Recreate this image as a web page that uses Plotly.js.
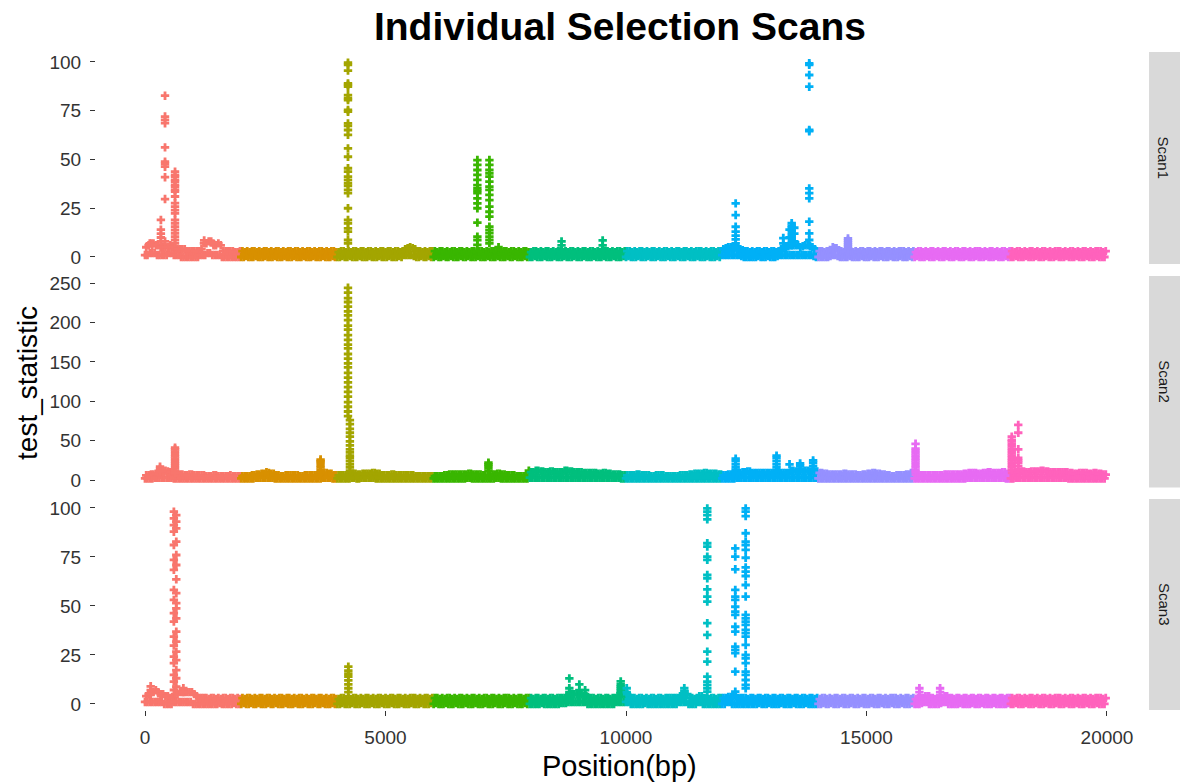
<!DOCTYPE html>
<html>
<head>
<meta charset="utf-8">
<script src="https://cdn.plot.ly/plotly-3.0.1.min.js"></script>
<style>html,body{margin:0;padding:0;background:#fff;}#chart{width:1180px;height:784px;}</style>
</head>
<body>
<div id="chart"></div>
<script>
// ---- categories ----
const scanNames = ['Scan1', 'Scan2', 'Scan3'];
const chromNames = ['chr1','chr2','chr3','chr4','chr5','chr6','chr7','chr8','chr9','chr10'];
const chromStarts = [0, 2000, 4000, 6000, 8000, 10000, 12000, 14000, 16000, 18000];
const chromLength = 2000;
const chromColors = ['#F8766D','#D89000','#A3A500','#39B600','#00BF7D','#00BFC4','#00B0F6','#9590FF','#E76BF3','#FF62BC'];

// ---- background SNPs: evenly spaced along each chromosome (one row per chromosome) ----
const scan1Base = [
  [1,5,1,6,2,7,2,7,2,6,1,6,1,5,1,5,1,5,1,5,2,6,2,5,1,5,1,4,1,4,0,4,0,4,0,3,0,3,0,3,0,3,0,3,0,3,1,4,1,7,1,7,2,8,2,8,1,6,1,6,1,7,1,6,0,3,0,3,0,3,0,3,0,3,0,2.5,0,2.5,0,3],
  [0,3,0,2.5,0.5,3,0,2.5,0,3,0,3,0.5,2.5,0,3,0,2.5,0,3,0.5,3,0,2.5,0,3,0,2.5,0.5,3,0,3,0,2.5,0,3,0.5,2.5,0,3,0,3,0,2.5,0.5,3,0,3,0,2.5,0,3,0.5,2.5,0,3,0,3,0,2.5,0.5,3,0,2.5,0,3,0,3,0.5,2.5,0,3,0,2.5,0,3,0.5,3,0,2.5],
  [0,2.5,0,3,0.5,3,0,2.5,0,3,0.5,2.5,0,3,0,3,0,2.5,0.5,3,0,3,0,2.5,0,3,0.5,3,0,2.5,0,3,0,2.5,0.5,3,0,3,0,2.5,0,3,0.5,3,0,2.5,0,3,0,3,0.5,2.5,0,3,1,4,1,4.5,1,5,1,4.5,0.5,4,0,3,0,3,0.5,2.5,0,3,0,2.5,0.5,3,0,3],
  [0,3,0.5,2.5,0,3,0,3,0.5,2.5,0,3,0,2.5,0.5,3,0,3,0,2.5,0,3,0.5,3,0,2.5,0,3,0.5,2.5,0,3,0,3,0,2.5,0.5,3,0,3,0,2.5,0,3,0.5,2.5,0,3,0,3,0,2.5,0.5,3,0,2.5,0,3,0,3,0.5,2.5,0,3,0,3,0.5,2.5,0,3,0,2.5,0,3,0.5,3,0,2.5],
  [0,2.5,0,3,0.5,3,0,2.5,0,3,0,2.5,0.5,3,0,3,0,2.5,0,3,0.5,2.5,0,3,0,3,0,2.5,0.5,3,0,2.5,0,3,0,3,0.5,2.5,0,3,0,2.5,0,3,0.5,3,0,2.5,0,3,0,3,0.5,2.5,0,3,0,2.5,0,3,0.5,3,0,3,0,2.5,0,3,0.5,2.5,0,3,0,3,0,2.5,0.5,3],
  [0,3,0.5,3,0,2.5,0,3,0,2.5,0.5,3,0,3,0,2.5,0,3,0.5,2.5,0,3,0,3,0,2.5,0.5,3,0,2.5,0,3,0,3,0.5,2.5,0,3,0,2.5,0,3,0.5,3,0,2.5,0,3,0,3,0.5,2.5,0,3,0,2.5,0,3,0.5,3,0,3,0,2.5,0,3,0.5,2.5,0,3,0,3,0,2.5,0.5,3,0,3],
  [1,4,1,4.5,1,5,1,5,1,5,1,5,1,4.5,1,4,0.5,3.5,0,3,0,3,0,2.5,0,3,0,2.5,0,3,0.5,3,0,2.5,0,3,0,3,0.5,2.5,0,3,0,3,0,2.5,0.5,3,1,4,1,4.5,1,5,1,5.5,1,6,1,6,1,6,1,6,1,5,1,5.5,1,6,1,6,1,5.5,1,5,0.5,4,0,3],
  [0,3,0,3,0,2.5,0,3,0,3,0.5,3.5,1,4.5,1,4.5,0.5,3.5,0,3,0,2.5,0,3,0,3,0.5,3,0,2.5,0,3,0,2.5,0,3,0.5,3,0,2.5,0,3,0,3,0.5,2.5,0,3,0,2.5,0,3,0.5,3,0,2.5,0,3,0,3,0.5,2.5,0,3,0,2.5,0,3,0.5,3,0,3,0,2.5,0,3,0.5,2.5,0,3],
  [0,2.5,0.5,3,0,3,0,2.5,0,3,0.5,2.5,0,3,0,3,0,2.5,0.5,3,0,2.5,0,3,0,3,0.5,2.5,0,3,0,2.5,0,3,0.5,3,0,2.5,0,3,0,3,0.5,2.5,0,3,0,2.5,0,3,0.5,3,0,3,0,2.5,0,3,0.5,2.5,0,3,0,3,0,2.5,0.5,3,0,2.5,0,3,0,3,0.5,2.5,0,3],
  [0,3,0,2.5,0.5,3,0,3,0,2.5,0,3,0.5,2.5,0,3,0,3,0,2.5,0.5,3,0,2.5,0,3,0,3,0.5,2.5,0,3,0,2.5,0,3,0.5,3,0,3,0,2.5,0,3,0.5,2.5,0,3,0,3,0,2.5,0.5,3,0,2.5,0,3,0,3,0.5,2.5,0,3,0,2.5,0,3,0.5,3,0,3,0,2.5,0,3]
];
const scan2Base = [
  [2,6,2,6,2,7,2,7,3,8,3,8,3,10,3,10,3,12,3,11,3,10,3,10,2,8,2,8,2,7,2,7,2,6,2,6,2,7,2,7,2,6,2,6,2,6,2,6,2,6,2,5,2,5,2,5,2,6,2,6,2,5,2,5,2,5,2,5,2,5,2,6,2,5,2,5,2,5,2,5],
  [2,5,2,5,2,5,2,5,2,6,2,6,3,7,3,7,3,8,3,8,3,10,3,9,3,8,3,8,2,6,2,6,2,5,2,5,2,6,2,6,2,6,2,6,2,6,2,6,2,5,2,5,2,6,2,6,2,6,2,6,2,6,2,6,2,7,2,7,3,9,3,9,3,8,3,8,2,6,2,6],
  [2,6,2,6,2,6,2,6,2,7,2,7,3,8,3,8,2,7,2,7,3,8,3,8,3,8,3,8,3,9,3,9,2,8,2,8,2,6,2,6,2,6,2,6,2,7,2,7,2,6,2,6,2,6,2,6,2,6,2,6,2,6,2,6,2,5,2,5,2,5,2,5,2,5,2,5,2,5,2,5],
  [2,5,2,5,2,5,2,5,2,6,2,6,2,7,2,7,2,7,2,7,2,7,2,7,2,7,2,7,3,8,3,8,2,7,2,7,2,7,2,7,2,6,2,6,2,6,2,6,2,7,2,7,3,8,3,8,2,7,2,7,2,6,2,6,2,6,2,6,2,5,2,5,2,5,2,5,2,5,2,5],
  [3,10,3,10,3,12,3,12,3,11,3,11,3,10,3,10,3,11,3,11,3,10,3,10,3,10,3,10,3,12,3,12,3,11,3,11,3,10,3,10,3,10,3,10,3,9,3,9,3,9,3,9,3,9,3,9,3,8,3,8,3,9,3,9,3,8,3,8,3,7,3,7,3,7,3,7,2,6,2,6],
  [2,6,2,6,2,6,2,6,2,7,2,7,2,6,2,6,2,6,2,6,2,5,2,5,2,6,2,6,2,6,2,6,2,5,2,5,2,5,2,5,2,5,2,5,2,6,2,6,2,6,2,6,2,7,2,7,2,8,2,8,2,8,2,8,2,9,2,9,2,8,2,8,2,8,2,8,2,7,2,7],
  [2,6,2,6,2,7,2,7,2,8,2,8,3,9,3,9,3,10,3,10,3,11,3,11,3,9,3,9,3,9,3,9,3,9,3,9,3,9,3,9,3,9,3,9,3,10,3,10,3,9,3,9,3,9,3,9,3,12,3,12,3,11,3,11,3,11,3,11,3,12,3,12,3,11,3,11,3,11,3,11],
  [2,9,2,9,2,8,2,8,2,7,2,7,2,7,2,7,2,7,2,7,2,8,2,8,2,7,2,7,2,7,2,7,2,6,2,6,2,7,2,7,2,8,2,8,2,9,2,9,2,8,2,8,2,7,2,7,2,6,2,6,2,5,2,5,2,6,2,6,2,6,2,6,2,7,2,7,2,9,2,9],
  [2,7,2,7,2,6,2,6,2,6,2,6,2,6,2,6,2,6,2,6,2,6,2,6,2,7,2,7,2,7,2,7,2,7,2,7,2,7,2,7,2,8,2,8,3,9,3,9,3,9,3,9,3,8,3,8,3,9,3,9,3,10,3,10,3,9,3,9,3,9,3,9,3,10,3,10,2,8,2,8],
  [2,9,2,9,3,10,3,10,3,11,3,11,3,10,3,10,3,11,3,11,3,11,3,11,3,12,3,12,3,11,3,11,3,10,3,10,3,10,3,10,3,10,3,10,3,10,3,10,2,9,2,9,2,8,2,8,2,9,2,9,2,9,2,9,2,8,2,8,2,9,2,9,2,8,2,8,2,7,2,7]
];
const scan3Base = [
  [1,4,1,5,1,6,1,6,1,7,1,6,1,5,1,5,0,4,0,4,0,3,0,3,1,5,1,5,1,6,1,6,1,6,1,6,1,6,1,6,0,5,0,4,0,3,0,3,0,3,0,3,0,2.5,0,3,0,3,0,2.5,0,3,0.5,2.5,0,3,0,3,0,2.5,0,3,0,3,0.5,2.5,0,3,0,2.5],
  [0,3,0.5,2.5,0,3,0,3,0.5,2.5,0,3,0,2.5,0.5,3,0,3,0,2.5,0,3,0.5,3,0,2.5,0,3,0.5,2.5,0,3,0,3,0,2.5,0.5,3,0,3,0,2.5,0,3,0.5,2.5,0,3,0,3,0,2.5,0.5,3,0,2.5,0,3,0,3,0.5,2.5,0,3,0,3,0.5,2.5,0,3,0,2.5,0,3,0.5,3,0,2.5],
  [0,2.5,0,3,0.5,3,0,2.5,0,3,0,2.5,0.5,3,0,3,0,2.5,0,3,0.5,2.5,0,3,0,3,0,2.5,0.5,3,0,2.5,0,3,0,3,0.5,2.5,0,3,0,2.5,0,3,0.5,3,0,2.5,0,3,0,3,0.5,2.5,0,3,0,2.5,0,3,0.5,3,0,3,0,2.5,0,3,0.5,2.5,0,3,0,3,0,2.5,0.5,3],
  [0,3,0.5,3,0,2.5,0,3,0,2.5,0.5,3,0,3,0,2.5,0,3,0.5,2.5,0,3,0,3,0,2.5,0.5,3,0,2.5,0,3,0,3,0.5,2.5,0,3,0,2.5,0,3,0.5,3,0,2.5,0,3,0,3,0.5,2.5,0,3,0,2.5,0,3,0.5,3,0,3,0,2.5,0,3,0.5,2.5,0,3,0,3,0,2.5,0.5,3,0,3],
  [0,3,0,2.5,0,3,0,3,0,2.5,0.5,3,0,3,0,2.5,0,3,0,3,0,2.5,0,3,0,3,0.5,3,0.5,3,0.5,3.5,1,4,1,5,1,5,1,5,1,5,1,5,1,4,1,4,0,3,0,3,0,3,0,2.5,0,3,0,3,0,2.5,0,3,0,3,0,2.5,0,3,0,3,1,4,1,4,1,5,1,5],
  [1,5,1,4,0,3,0,3,0,2.5,0,3,0,3,0,2.5,0.5,3,0,2.5,0,3,0,3,0,2.5,0,3,0,3,0,2.5,0,3,0,3,0,3,0,3,0,3,0,3,1,4,1,4,1,5,1,5,0,3,0,3,0,2.5,0,3,1,4,1,4,0,3,0,3,0,2.5,0,3,0,3,0,2.5,0,3,0,3],
  [0,3,0,3,1,3.5,1,3.5,0,4,0,4,0,3,0,3,0,3,0,3,0,2.5,0,3,0,3,0,2.5,0,3,0.5,3,0,2.5,0,3,0,3,0.5,2.5,0,3,0,3,0,2.5,0,3,0.5,3,0,2.5,0,3,0,3,0,2.5,0.5,3,0,3,0,2.5,0,3,0,3,0.5,2.5,0,3,0,3,0,2.5,0,3],
  [0,2.5,0,3,0.5,3,0,2.5,0,3,0.5,2.5,0,3,0,3,0,2.5,0.5,3,0,3,0,2.5,0,3,0.5,3,0,2.5,0,3,0,2.5,0.5,3,0,3,0,2.5,0,3,0.5,3,0,2.5,0,3,0,3,0.5,2.5,0,3,0,2.5,0,3,0.5,3,0,3,0,2.5,0,3,0.5,2.5,0,3,0,3,0,2.5,0.5,3],
  [0,2.5,0,3,0,3,0.5,3,1,4,1,4,0,3,0,3,0,2.5,0,3,0,3,0.5,3,1,4,1,4,0,3,0,3,0,2.5,0,3,0,3,0.5,2.5,0,3,0,3,0,2.5,0,3,0.5,3,0,2.5,0,3,0,3,0.5,2.5,0,3,0,3,0,2.5,0,3,0.5,3,0,2.5,0,3,0,3,0,2.5,0,3,0.5,3],
  [0,3,0,2.5,0.5,3,0,3,0,2.5,0,3,0.5,2.5,0,3,0,3,0,2.5,0.5,3,0,2.5,0,3,0,3,0.5,2.5,0,3,0,2.5,0,3,0.5,3,0,3,0,2.5,0,3,0.5,2.5,0,3,0,3,0,2.5,0.5,3,0,2.5,0,3,0,3,0.5,2.5,0,3,0,2.5,0,3,0.5,3,0,3,0,2.5,0,3]
];

// ---- outlying SNPs: position (bp) and the test statistics read at that position ----
const scan1PeakPos = [100, 150, 330, 416, 624, 1230, 1420, 4220, 5450, 6910, 7160, 7350, 8660, 9515,
                      12150, 12280, 13270, 13400, 13445, 13500, 13810, 14300, 14615, 16240];
const scan1PeakVals = [
  [7], [6], [19,14,12,10,8],
  [82.7,72,70.3,68.6,56.2,48.9,47.7,46.3,40.9,29.7,8],
  [43.7,42,41.2,39.5,38.6,37,36,34.4,33.5,31,27.6,25.8,24,22.4,19,17.3,15.5,13.8,12.1,10.4,8.7,7],
  [8.5], [7],
  [99.6,98.5,95.6,89,88.2,87.3,83,81.4,80.5,75.4,74.5,68.5,67.2,65.1,62.6,55.7,51.4,45.5,43.8,41.2,39.5,37.8,36.5,34.4,32.7,25,19,17.3,14.7,13,8.7,7],
  [4],
  [49.7,47.2,44.6,42.1,39.5,36.8,35.2,34,32.7,30.1,27.5,25,17.6,10.4,8.7,6.2],
  [49.7,47.2,44.6,42.9,41.2,38.6,36.1,34.4,31.8,29.2,25.8,23.2,20.7,15.5,13.8,12.2,10.4,8.7,7],
  [5], [8,6,4], [8.5,6,4],
  [4], [27.5,21.5,15.5,13,11,9,7,5], [9.7,7], [14,10],
  [17.3,16,15,13.5,12,10.5,9,7.5,6], [15,12,8],
  [99.3,98.5,93.3,87.3,65.1,64.5,35.2,32.7,30.1,18.1,12.1,8.7],
  [5], [9.5,8.5,7.5,6.5,5.5,4.5], [2.5]
];
const scan2PeakPos = [312, 624, 3650, 4220, 4260, 7140, 7980, 12280, 13130, 13400, 13620, 13890, 16020, 18020, 18155];
const scan2PeakVals = [
  [17,14,11],
  [41,39,36,33,30,27,24,21,18,15,12,9],
  [26,24,22,19,16,13,10],
  [244,238,231,226,220,214,209,203,196,191,184,178,172,167,160,154,148,143,136,130,124,118,112,106,99,93,87,81],
  [76,71,65,60,55,49,44,39,35,31,28,24,20,16,12],
  [22,20,18,15,12],
  [12],
  [27,24,20,16,13],
  [31,28,24,20,16,12],
  [20],
  [21,18,14],
  [25,22,18,14],
  [46,40,37,34,31,28,25,22,19,16,13,10],
  [55,51,49,46,43,40,37,34,31,28,25,22,19,16,13],
  [70,60,39,28,25,22,18,14]
];
const scan3PeakPos = [118, 333, 600, 650, 797, 4227, 8822, 9030, 9150, 9890, 10015, 11212, 11690, 12272, 12488, 16100, 16300, 16530];
const scan3PeakVals = [
  [9,7,5], [4],
  [98.1,94.7,91.3,87.9,81.1,73.5,68.4,58.2,53.1,46.3,42,34.3,29.8,24.1,20.8,14.8,11.4,7.1],
  [96.4,93,89.6,82.8,76,70.9,63.6,56.5,51.4,48.8,43.7,36.9,31.8,26.7,22.4,17.3,13.1,8.8],
  [8,6],
  [19,17,15.5,14,12,10,8,6],
  [13,8,6,5], [10,7], [7,5], [11.5,10,9,8,7,6], [8,6], [8,6.5,5],
  [99.8,98.1,96.4,94.2,82,80.3,75.2,73.5,65.8,64.1,58.5,54.8,52.2,41.2,35.2,26.7,21.6,13.9,11.4,9.7,8,6.3],
  [79.4,75.2,68.7,58.2,54.8,53.1,49.6,47.1,45.4,39.4,36.9,29.2,27.6,25.9,16.5,6.3],
  [99.8,98.1,95.9,87.1,82.8,81.1,78.6,74.6,69.7,67.5,65.3,60.7,54.8,45.4,43.7,42,40.3,37.8,36.1,34.3,30.1,25,23.3,20.8,16.5,14.8,12.2,9.7,8],
  [8,6,4], [4], [8,6,4]
];

const xTicks = [0, 5000, 10000, 15000, 20000];
const yTicksScan1 = [0, 25, 50, 75, 100];
const yTicksScan2 = [0, 50, 100, 150, 200, 250];
const yTicksScan3 = [0, 25, 50, 75, 100];

// ---- build traces ----
const scans = [
  {base: scan1Base, pos: scan1PeakPos, vals: scan1PeakVals, yaxis: 'y'},
  {base: scan2Base, pos: scan2PeakPos, vals: scan2PeakVals, yaxis: 'y2'},
  {base: scan3Base, pos: scan3PeakPos, vals: scan3PeakVals, yaxis: 'y3'}
];
function chromOf(p) {
  let c = 0;
  for (let i = 0; i < chromStarts.length; i++) if (p >= chromStarts[i]) c = i;
  return c;
}
const traces = [];
scans.forEach(function (s) {
  const xs = chromNames.map(() => []), ys = chromNames.map(() => []);
  s.base.forEach(function (row, c) {
    const step = chromLength / row.length;
    row.forEach(function (v, j) { xs[c].push(chromStarts[c] + j * step); ys[c].push(v); });
  });
  s.pos.forEach(function (p, k) {
    const c = chromOf(p);
    s.vals[k].forEach(function (v) { xs[c].push(p); ys[c].push(v); });
  });
  chromNames.forEach(function (name, c) {
    traces.push({
      type: 'scatter', mode: 'markers', name: name,
      x: xs[c], y: ys[c], xaxis: 'x', yaxis: s.yaxis,
      marker: {symbol: 'cross', size: 7, color: chromColors[c], line: {width: 0}},
      hoverinfo: 'skip', showlegend: false, cliponaxis: false
    });
  });
});

const tickFont = {family: 'Liberation Sans, Arial, sans-serif', size: 19, color: '#333333'};
function yax(domain, range, vals) {
  return {
    domain: domain, range: range, tickvals: vals, ticktext: vals.map(String),
    ticks: 'outside', ticklen: 5, tickwidth: 1, tickcolor: '#333333',
    ticklabelstandoff: 5,
    showgrid: false, zeroline: false, showline: false, tickfont: tickFont, anchor: 'x'
  };
}
const stripDomains = [[0.6778, 1], [0.3381, 0.6596], [0, 0.3207]];
const shapes = stripDomains.map(d => ({
  type: 'rect', xref: 'paper', yref: 'paper', x0: 1.0029, x1: 1.035, y0: d[0], y1: d[1],
  fillcolor: '#D9D9D9', line: {width: 0}, layer: 'below'
}));
const annotations = stripDomains.map((d, i) => ({
  xref: 'paper', yref: 'paper', x: 1.0176, y: (d[0] + d[1]) / 2, text: scanNames[i],
  showarrow: false, textangle: 90, xanchor: 'center', yanchor: 'middle',
  font: {family: 'Liberation Sans, Arial, sans-serif', size: 15, color: '#1A1A1A'}
}));
annotations.push({
  xref: 'paper', yref: 'paper', x: -0.0648, y: 0.497, text: 'test_statistic', showarrow: false,
  textangle: -90, xanchor: 'center', yanchor: 'middle',
  font: {family: 'Liberation Sans, Arial, sans-serif', size: 28, color: '#000'}
});
annotations.push({
  xref: 'paper', yref: 'paper', x: 0.499, y: -0.0851, text: 'Position(bp)', showarrow: false,
  xanchor: 'center', yanchor: 'middle',
  font: {family: 'Liberation Sans, Arial, sans-serif', size: 29, color: '#000'}
});

const layout = {
  width: 1180, height: 784,
  margin: {l: 96, r: 34, t: 52, b: 74},
  paper_bgcolor: '#FFFFFF', plot_bgcolor: '#FFFFFF',
  showlegend: false,
  title: {text: '<b>Individual Selection Scans</b>', xref: 'paper', x: 0.499, xanchor: 'center',
          yref: 'container', y: 0.967, yanchor: 'middle',
          font: {family: 'Liberation Sans, Arial, sans-serif', size: 39, color: '#000'}},
  xaxis: {
    range: [-1019, 20811], tickvals: xTicks, ticktext: xTicks.map(String),
    ticks: 'outside', ticklen: 5, tickwidth: 1, tickcolor: '#333333', ticklabelstandoff: 5,
    showgrid: false, zeroline: false, showline: false, tickfont: tickFont, anchor: 'y3'
  },
  yaxis: yax(stripDomains[0], [-3.6, 105.1], yTicksScan1),
  yaxis2: yax(stripDomains[1], [-9.5, 259], yTicksScan2),
  yaxis3: yax(stripDomains[2], [-3.1, 104.6], yTicksScan3),
  shapes: shapes,
  annotations: annotations
};
Plotly.newPlot('chart', traces, layout, {displayModeBar: false, staticPlot: true});
</script>
</body>
</html>
